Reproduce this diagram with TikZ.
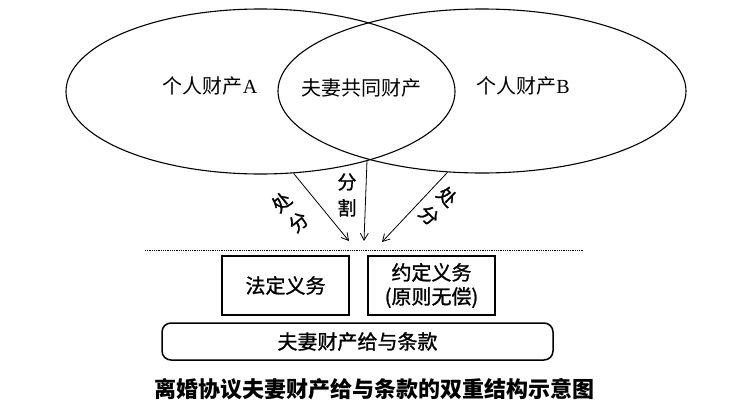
\documentclass[tikz,border=0pt]{standalone}
\usepackage{fontspec}
\setmainfont{Noto Sans CJK SC}
\newfontfamily\latin{Liberation Serif}
\newfontfamily\heavy{Noto Sans CJK SC}[FakeBold=1.2]
\usetikzlibrary{shapes.geometric}
\usetikzlibrary{arrows.meta}

\tikzset{
  set/.style={ellipse,draw,line width=1.1pt,inner sep=0pt},
  settext/.style={font=\fontsize{20}{24}\selectfont},
  act/.style={align=center,inner sep=1pt,font=\heavy\fontsize{19}{26}\selectfont},
  duty/.style={draw,line width=1.5pt,minimum width=127pt,minimum height=59pt,
    align=center,font=\heavy\fontsize{20}{24}\selectfont},
  clause/.style={draw,line width=1.5pt,rounded corners=9pt,minimum width=391pt,
    minimum height=37pt,font=\heavy\fontsize{20}{24}\selectfont},
}

\begin{document}
\begin{tikzpicture}[x=1pt,y=-1pt,>={Straight Barb[length=7pt,width=8pt]}]
            \useasboundingbox (0,0) rectangle (736,410);
            % the two property sets
            \node[set,minimum width=389pt,minimum height=165pt] (setA) at (260.5,91.5) {};
            \node[set,minimum width=408pt,minimum height=164pt] (setB) at (482,91) {};
            \coordinate (meet) at (367,160.5);
            \node[settext] (ownA) at (210,86) {个人财产{\latin A}};
            \node[settext] (common) at (361,88) {夫妻共同财产};
            \node[settext] (ownB) at (523,86) {个人财产{\latin B}};
            % arrows down to the dotted line
            \coordinate (endA) at (349,241);
            \coordinate (endM) at (364,241);
            \coordinate (endB) at (382,242);
            \draw[->,line width=0.8pt] (setA.-68) -- (endA);
            \draw[->,line width=0.8pt] (meet) -- (endM);
            \draw[->,line width=0.8pt] (setB.-113) -- (endB);
            \node[act,rotate=40] (cutA) at (290,212) {处\\分};
            \node[act] (cutM) at (347,195) {分\\割};
            \node[act,rotate=-44] (cutB) at (438,206) {处\\分};
            \draw[densely dotted,line width=0.8pt] (145,250) -- (583,250);
            % the two layers
            \node[duty] (legal) at (285.5,285.5) {法定义务};
            \node[duty] (agreed) at (431.5,285.5) {约定义务\\(原则无偿)};
            \node[clause] (gift) at (357.5,341.5) {夫妻财产给与条款};
            \node[font=\bfseries\fontsize{22}{26}\selectfont] (caption) at (374.5,389)
                {离婚协议夫妻财产给与条款的双重结构示意图};
        \end{tikzpicture}
\end{document}
